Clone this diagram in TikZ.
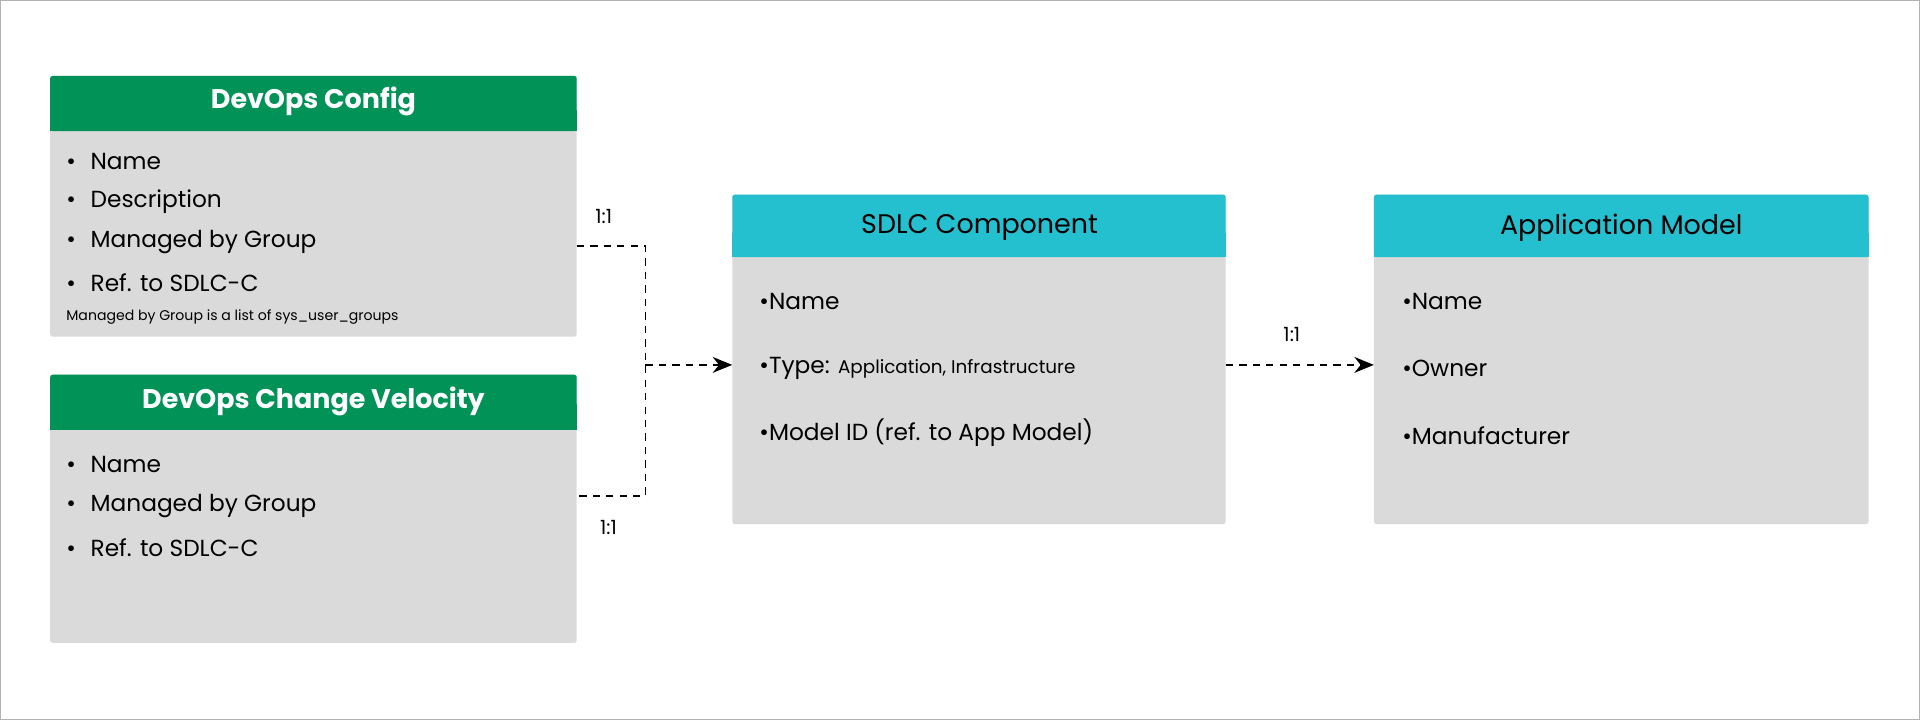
\documentclass[tikz,border=0pt]{standalone}
\usepackage{fontspec}
\setmainfont{Poppins}
\usetikzlibrary{arrows.meta}
\definecolor{hgreen}{HTML}{009257}
\definecolor{hcyan}{HTML}{25C0D0}
\definecolor{bodyg}{HTML}{DADADA}
\begin{document}
\begin{tikzpicture}[x=1pt,y=-1pt,
  body/.style={fill=bodyg,rounded corners=2pt},
  tx/.style={anchor=west,inner sep=0pt,font=\fontsize{19}{20}\selectfont},
  ttl/.style={inner sep=0pt,text=white,font=\fontsize{22}{24}\selectfont\bfseries},
  ttl2/.style={inner sep=0pt,text=black,font=\fontsize{22}{24}\selectfont},
  conn/.style={dashed,line width=1.3pt,dash pattern=on 6pt off 5pt},
  lab/.style={font=\fontsize{16}{18}\selectfont}]
\useasboundingbox (0,0) rectangle (1568,588);
\draw[gray!60] (0.5,0.5) rectangle (1567.5,587.5);
% DevOps Config
\fill[body] (41,62) rectangle (471,275);
\fill[hgreen,rounded corners=2pt] (41,62) rectangle (471,107);
\fill[hgreen] (41,90) rectangle (471,107);
\node[ttl] (dc) at (256,83) {DevOps Config};
\foreach \t/\y in {Name/132,Description/165,Managed by Group/198,Ref. to SDLC-C/231}
  \node[tx] at (54,\y) {•\hspace{12pt}\t};
\node[tx,font=\fontsize{11.5}{13}\selectfont] at (54,259) {Managed by Group is a list of sys\_user\_groups};
\coordinate (dco) at (471,201);
% DevOps Change Velocity
\fill[body] (41,306) rectangle (471,525);
\fill[hgreen,rounded corners=2pt] (41,306) rectangle (471,351);
\fill[hgreen] (41,330) rectangle (471,351);
\node[ttl] (dv) at (256,328) {DevOps Change Velocity};
\foreach \t/\y in {Name/379,Managed by Group/413,Ref. to SDLC-C/447}
  \node[tx] at (54,\y) {•\hspace{12pt}\t};
\coordinate (dvo) at (471,405);
% SDLC
\fill[body] (598,159) rectangle (1001,428);
\fill[hcyan,rounded corners=2pt] (598,159) rectangle (1001,210);
\fill[hcyan] (598,190) rectangle (1001,210);
\node[ttl2] (sd) at (800,186) {SDLC Component};
\node[tx] at (620,246) {•Name};
\node[tx] at (620,301) {•Type: {\fontsize{15}{17}\selectfont Application, Infrastructure}};
\node[tx] at (620,353) {•Model ID (ref. to App Model)};
\coordinate (sdi) at (598,298);
\coordinate (sdo) at (1001,298);
% App Model
\fill[body] (1122,159) rectangle (1526,428);
\fill[hcyan,rounded corners=2pt] (1122,159) rectangle (1526,210);
\fill[hcyan] (1122,190) rectangle (1526,210);
\node[ttl2] (am) at (1324,186) {Application Model};
\node[tx] at (1145,246) {•Name};
\node[tx] at (1145,301) {•Owner};
\node[tx] at (1145,356) {•Manufacturer};
\coordinate (ami) at (1122,298);
% connectors
\coordinate (j) at (527,298);
\draw[conn] (dco) -- (527,201) -- (527,405) -- (dvo);
\draw[conn,-{Stealth[length=16pt,width=13pt]}] (j) -- (sdi);
\draw[conn,-{Stealth[length=16pt,width=13pt]}] (sdo) -- (ami);
\node[lab] at (493,177) {1:1};
\node[lab] at (497,431) {1:1};
\node[lab] at (1055,273) {1:1};
\end{tikzpicture}
\end{document}
